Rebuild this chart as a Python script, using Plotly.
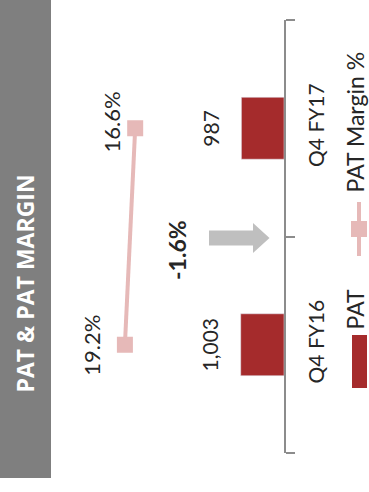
import plotly.graph_objects as go

# ---- data ----
categories = ["Q4 FY16", "Q4 FY17"]
pat_values = [1003, 987]
pat_labels = ["1,003", "987"]
margin_values = [19.2, 16.6]
margin_labels = ["19.2%", "16.6%"]
title_text = "PAT & PAT MARGIN"
legend_names = ["PAT", "PAT Margin %"]

# ---- style / layout ----
W, H = 369, 492
ML, MR, MT, MB = 60, 85, 20, 39
PW, PH = W - ML - MR, H - MT - MB
BAR_COLOR = "#A52B2C"
LINE_COLOR = "#E6B9B8"
GREY_PANEL = "#7F7F7F"
ARROW_COLOR = "#BFBFBF"
TXT = "#262626"
FONT = "Lato"


def px_x(x):
    return (x - ML) / PW


def px_y(y):
    return (H - MB - y) / PH


fig = go.Figure()
fig.add_trace(go.Bar(
    x=pat_values, y=categories, orientation="h", name=legend_names[0],
    marker=dict(color=BAR_COLOR), width=0.286, xaxis="x", yaxis="y",
    showlegend=False, hoverinfo="skip",
))
fig.add_trace(go.Scatter(
    x=margin_values, y=categories, mode="lines+markers", name=legend_names[1],
    line=dict(color=LINE_COLOR, width=4),
    marker=dict(symbol="square", size=14, color=LINE_COLOR,
                line=dict(color=LINE_COLOR, width=2)),
    xaxis="x2", yaxis="y", showlegend=False, hoverinfo="skip",
))

annotations = []
# bar data labels
for v, c, t in zip(pat_values, categories, pat_labels):
    annotations.append(dict(x=v, y=c, xref="x", yref="y", text=t, showarrow=False,
                            textangle=-90, xanchor="center", yanchor="middle",
                            xshift=-31, font=dict(family=FONT, size=21, color=TXT)))
# margin data labels
label_shift = [(-33, 0), (-24, 6)]
for v, c, t, (sx, sy) in zip(margin_values, categories, margin_labels, label_shift):
    annotations.append(dict(x=v, y=c, xref="x2", yref="y", text=t, showarrow=False,
                            textangle=-90, xanchor="center", yanchor="middle",
                            xshift=sx, yshift=sy, font=dict(family=FONT, size=22, color=TXT)))
# growth label
growth = (pat_values[1] / pat_values[0] - 1) * 100
annotations.append(dict(x=px_x(177), y=px_y(250), xref="paper", yref="paper",
                        text="<b>%.1f%%</b>" % growth, showarrow=False, textangle=-90,
                        xanchor="center", yanchor="middle",
                        font=dict(family=FONT, size=23, color=TXT)))
# title in grey panel
annotations.append(dict(x=px_x(24.5), y=px_y(284), xref="paper", yref="paper",
                        text="<b>" + title_text + "</b>", showarrow=False, textangle=-90,
                        xanchor="center", yanchor="middle",
                        font=dict(family="Open Sans", size=23, color="white")))
# legend texts
annotations.append(dict(x=px_x(354.5), y=px_y(309), xref="paper", yref="paper",
                        text=legend_names[0], showarrow=False, textangle=-90,
                        xanchor="center", yanchor="middle",
                        font=dict(family=FONT, size=23, color=TXT)))
annotations.append(dict(x=px_x(354.5), y=px_y(122), xref="paper", yref="paper",
                        text=legend_names[1], showarrow=False, textangle=-90,
                        xanchor="center", yanchor="middle",
                        font=dict(family=FONT, size=23, color=TXT)))

shapes = [
    # grey side panel
    dict(type="rect", xref="paper", yref="paper", x0=px_x(0), x1=px_x(51),
         y0=px_y(0), y1=px_y(478), fillcolor=GREY_PANEL, line=dict(width=0), layer="below"),
    # arrow
    dict(type="path", xref="paper", yref="paper",
         path="M %f %f L %f %f L %f %f L %f %f L %f %f L %f %f L %f %f Z" % (
             px_x(209), px_y(230.5), px_x(253), px_y(230.5), px_x(253), px_y(223),
             px_x(269.5), px_y(238), px_x(253), px_y(253), px_x(253), px_y(245.5),
             px_x(209), px_y(245.5)),
         fillcolor=ARROW_COLOR, line=dict(width=0)),
    # legend: PAT key
    dict(type="rect", xref="paper", yref="paper", x0=px_x(352), x1=px_x(367),
         y0=px_y(335), y1=px_y(388), fillcolor=BAR_COLOR, line=dict(width=0)),
    # legend: margin key line
    dict(type="line", xref="paper", yref="paper", x0=px_x(359), x1=px_x(359),
         y0=px_y(202), y1=px_y(256), line=dict(color=LINE_COLOR, width=4)),
    dict(type="rect", xref="paper", yref="paper", x0=px_x(351), x1=px_x(367),
         y0=px_y(221), y1=px_y(237), fillcolor=LINE_COLOR, line=dict(width=0)),
]

fig.update_layout(
    width=W, height=H, margin=dict(l=ML, r=MR, t=MT, b=MB),
    paper_bgcolor="white", plot_bgcolor="white", showlegend=False,
    xaxis=dict(range=[5190, 0], visible=False, showgrid=False, zeroline=False),
    xaxis2=dict(range=[35.6, -21.0], overlaying="x", visible=False,
                showgrid=False, zeroline=False),
    yaxis=dict(type="category", range=[-0.5, 1.5], side="right",
               showline=True, linecolor="#8C8C8C", linewidth=2,
               ticks="outside", tickson="boundaries", ticklen=9, tickwidth=1.5,
               tickcolor="#8C8C8C", tickangle=-90, showgrid=False, zeroline=False,
               ticklabelstandoff=13,
               tickfont=dict(family=FONT, size=21, color=TXT)),
    annotations=annotations, shapes=shapes,
)

fig.write_html("out.html")
